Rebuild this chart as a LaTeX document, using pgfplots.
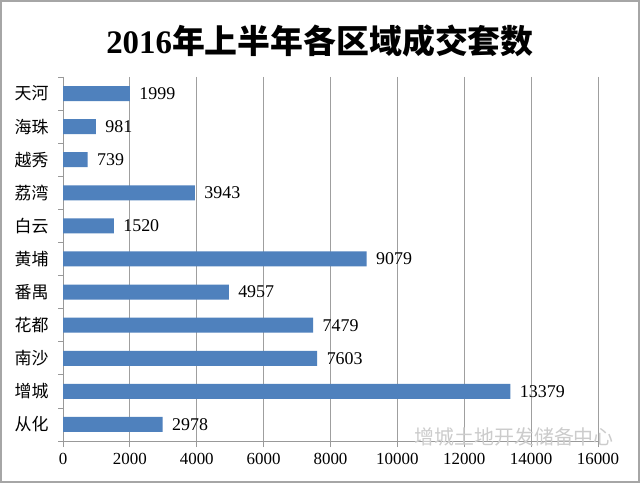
\documentclass[border=0pt]{standalone}
\usepackage{pgfplots}
\pgfplotsset{compat=1.18}
\usepackage{fontspec}
\setmainfont{Liberation Serif}
\newfontfamily\cjk{Noto Sans CJK SC}
\definecolor{barblue}{RGB}{79,129,189}
\begin{document}
\begin{tikzpicture}[x=1bp,y=1bp]
\useasboundingbox (0,0) rectangle (640,483);
\fill[white] (0,0) rectangle (640,483);
\node[font=\fontsize{33}{33}\selectfont\bfseries] at (320,442) {2016{\cjk\bfseries 年上半年各区域成交套数}};
\begin{axis}[
  at={(63bp,42bp)}, anchor=south west,
  scale only axis, width=535bp, height=364bp,
  xbar, bar width=15bp,
  xmin=0, xmax=16000,
  ymin=-0.5, ymax=10.5, y dir=reverse,
  xtick={0,2000,...,16000},
  ytick={0,...,10},
  yticklabels={天河,海珠,越秀,荔湾,白云,黄埔,番禺,花都,南沙,增城,从化},
  yticklabel style={font=\cjk\fontsize{17}{17}\selectfont, xshift=-11bp},
  xticklabel style={font=\fontsize{17}{17}\selectfont, yshift=-9bp},
  /pgf/number format/assume math mode=true,
  /pgf/number format/1000 sep={},
  scaled x ticks=false,
  minor ytick={-0.5,0.5,...,10.5},
  major tick length=0pt,
  minor tick length=5bp,
  tick align=outside,
  tick style={gray!80, line width=0.8bp},
  axis x line*=bottom, axis y line*=left,
  axis line style={gray!80, line width=0.8bp, -},
  xmajorgrids, major grid style={gray!75, line width=0.8bp},
  extra x ticks={0,2000,...,16000}, extra x tick labels={},
  extra x tick style={major tick length=6bp, grid=none},
  nodes near coords={\pgfmathprintnumber[1000 sep={},fixed,precision=0]{\pgfplotspointmeta}},
  nodes near coords style={font=\fontsize{18}{18}\selectfont, anchor=west, xshift=6bp},
  clip=false,
]
\addplot[fill=barblue, draw=none] coordinates {
(1999,0) (981,1) (739,2) (3943,3) (1520,4) (9079,5) (4957,6) (7479,7) (7603,8) (13379,9) (2978,10)
};
\end{axis}
\node[anchor=west, text=gray!40, font=\cjk\fontsize{20}{20}\selectfont] at (411,46) {增城土地开发储备中心};
\draw[gray!70, line width=2bp] (1,1) rectangle (639,482);
\end{tikzpicture}
\end{document}
